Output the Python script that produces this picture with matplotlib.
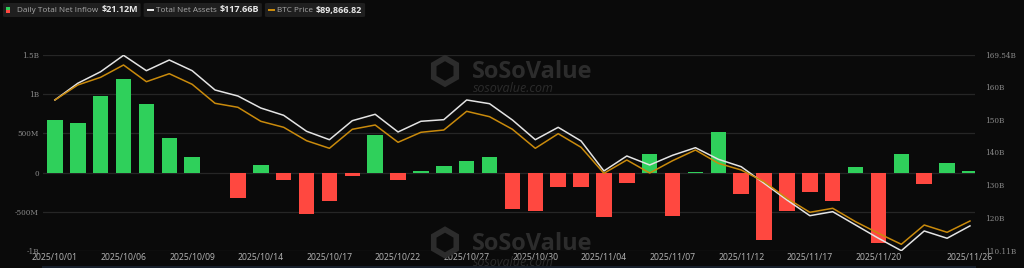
import matplotlib
matplotlib.use('Agg')
import matplotlib.pyplot as plt
from matplotlib.patches import FancyBboxPatch, Rectangle, RegularPolygon
from matplotlib.lines import Line2D

dates = ['2025/10/01', '2025/10/02', '2025/10/03', '2025/10/06', '2025/10/07', '2025/10/08',
         '2025/10/09', '2025/10/10', '2025/10/13', '2025/10/14', '2025/10/15', '2025/10/16',
         '2025/10/17', '2025/10/20', '2025/10/21', '2025/10/22', '2025/10/23', '2025/10/24',
         '2025/10/27', '2025/10/28', '2025/10/29', '2025/10/30', '2025/10/31', '2025/11/03',
         '2025/11/04', '2025/11/05', '2025/11/06', '2025/11/07', '2025/11/10', '2025/11/11',
         '2025/11/12', '2025/11/13', '2025/11/14', '2025/11/17', '2025/11/18', '2025/11/19',
         '2025/11/20', '2025/11/21', '2025/11/24', '2025/11/25', '2025/11/26']

# daily net inflow, millions USD
net_inflow = [671, 628, 982, 1200, 873, 438, 197, -2, -320, 101, -100, -530, -370, -38,
              476, -98, 21, 89, 152, 203, -470, -488, -190, -183, -572, -136, 241, -555,
              1, 521, -275, -866, -488, -250, -367, 76, -900, 241, -149, 127, 21.12]

# total net assets, billions USD
net_assets = [155.95, 161.03, 164.55, 169.54, 164.86, 168.11, 164.86, 158.99, 157.16, 153.51,
              151.29, 146.43, 143.87, 149.65, 151.60, 146.22, 149.47, 149.96, 155.95, 154.82,
              149.86, 143.87, 147.64, 143.48, 134.36, 138.92, 136.18, 139.13, 141.44, 137.91,
              135.66, 130.62, 125.54, 120.76, 121.98, 117.93, 113.89, 110.11, 116.11, 113.89,
              117.66]

btc_price = [116886, 120236, 121955, 124702, 120973, 122759, 120392, 116150, 115256, 112130,
             110790, 107798, 106101, 110344, 111304, 107441, 109674, 110187, 114363, 113157,
             110344, 106101, 109361, 106324, 100518, 103488, 100585, 103332, 105721, 102751,
             101255, 98643, 94936, 91810, 92703, 89711, 87120, 84664, 88974, 87344, 89866.82]

left_ticks = [-1e9, -5e8, 0, 5e8, 1e9, 1.5e9]
left_labels = ['-1B', '-500M', '0', '500M', '1B', '1.5B']
right_ticks = [110.11, 120, 130, 140, 150, 160, 169.54]
right_labels = ['110.11B', '120B', '130B', '140B', '150B', '160B', '169.54B']

BG = '#0a0a0a'
GREEN = '#2fd05b'
RED = '#ff4840'
WHITE = '#e4e4e4'
GOLD = '#c98a0c'
WM = '#2c2c2c'

W, H = 1024, 268
fig = plt.figure(figsize=(W / 100, H / 100), dpi=100, facecolor=BG)
ax = fig.add_axes([43 / W, 1 - 250.7 / H, 932 / W, 195.4 / H])
ax.set_facecolor(BG)

x = list(range(len(dates)))
colors = [GREEN if v >= 0 else RED for v in net_inflow]
ax.bar(x, [v * 1e6 for v in net_inflow], width=0.68, color=colors, zorder=2)

ax.set_xlim(-0.52, 40.22)
ax.set_ylim(-1e9, 1.5e9)
ax.set_yticks(left_ticks)
ax.set_yticklabels(left_labels, family='DejaVu Serif', fontsize=5.2, color='#8a8a8a')
ax.grid(axis='y', color='#262626', linewidth=0.9, zorder=0)
ax.tick_params(axis='y', length=0, pad=3)

tick_idx = list(range(0, 37, 3)) + [40]
ax.set_xticks(tick_idx)
ax.set_xticklabels([dates[i] for i in tick_idx], family='Noto Sans', fontsize=6.2, color='#b0b0b0')
ax.tick_params(axis='x', length=0, pad=1.5)
for s in ax.spines.values():
    s.set_visible(False)

# total net assets (right axis)
ax2 = ax.twinx()
ax2.plot(x, net_assets, color=WHITE, linewidth=1.1, zorder=4)
ax2.set_ylim(110.11, 169.54)
ax2.set_yticks(right_ticks)
ax2.set_yticklabels(right_labels, family='DejaVu Serif', fontsize=5.2, color='#8a8a8a')
ax2.tick_params(axis='y', length=0, pad=7.5)
for s in ax2.spines.values():
    s.set_visible(False)

# btc price (hidden axis)
ax3 = ax.twinx()
ax3.plot(x, btc_price, color=GOLD, linewidth=1.1, zorder=3)
ax3.set_ylim(83235, 126867)
ax3.axis('off')

# watermarks
for wy, sy in [(72, 88), (243.5, 262)]:
    fig.text(472 / W, 1 - wy / H, 'SoSoValue', fontsize=17, fontweight='bold', family='Open Sans',
             color=WM, va='center', ha='left', zorder=1)
    fig.text(473 / W, 1 - sy / H, 'sosovalue.com', fontsize=9, style='italic', family='Open Sans',
             color=WM, va='center', ha='left', zorder=1)
    fig.add_artist(RegularPolygon((445, H - wy + 1), 6, radius=13, fc='none', ec=WM, lw=4,
                                  transform=None, zorder=1))

# legend boxes
fig.canvas.draw()
boxes = [('Daily Total Net Inflow', '$21.12M'),
         ('Total Net Assets', '$117.66B'),
         ('BTC Price', '$89,866.82')]
bx = 3
for i, (lab, val) in enumerate(boxes):
    lx = bx + (14 if i == 0 else 12)
    t = fig.text(lx / W, 1 - 10 / H, lab, fontsize=5.9, family='Open Sans',
                 color='#a8a8a8', va='center', ha='left', zorder=6)
    bb = t.get_window_extent(fig.canvas.get_renderer())
    t2 = fig.text((bb.x1 + 3) / W, 1 - 10 / H, val, fontsize=6.5, family='Open Sans',
                  fontweight='bold', color='#e8e8e8', va='center', ha='left', zorder=6)
    bb2 = t2.get_window_extent(fig.canvas.get_renderer())
    bw = bb2.x1 + 3 - bx
    fig.add_artist(FancyBboxPatch((bx / W, 1 - 17 / H), bw / W, 14 / H,
                                  boxstyle='round,pad=0,rounding_size=0.003', fc='#1f1f1f',
                                  ec='none', transform=fig.transFigure, zorder=5))
    if i == 0:
        fig.add_artist(Rectangle((6 / W, 1 - 10 / H), 4 / W, 3 / H, fc=GREEN,
                                 ec='none', transform=fig.transFigure, zorder=6))
        fig.add_artist(Rectangle((6 / W, 1 - 13 / H), 4 / W, 3 / H, fc=RED,
                                 ec='none', transform=fig.transFigure, zorder=6))
    else:
        c = WHITE if i == 1 else GOLD
        fig.add_artist(Rectangle(((bx + 3) / W, 1 - 11.3 / H), 7 / W, 2.6 / H, fc=c,
                                 ec='none', transform=fig.transFigure, zorder=6))
    bx = bx + bw + 3

fig.add_artist(Line2D([43 / W, 975 / W], [1.5 / H, 1.5 / H], color='#18202c',
                      lw=1.5, transform=fig.transFigure))

fig.savefig('out.png', dpi=100, facecolor=BG)
